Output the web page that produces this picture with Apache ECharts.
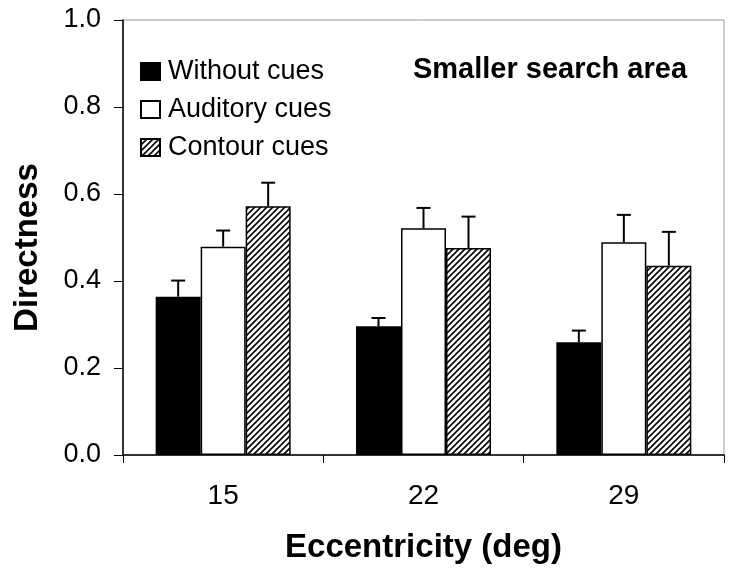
<!DOCTYPE html>
<html>
<head>
<meta charset="utf-8">
<script src="https://cdn.jsdelivr.net/npm/echarts@6/dist/echarts.min.js"></script>
<style>html,body{margin:0;padding:0;background:#fff;}#chart{width:740px;height:571px;}</style>
</head>
<body>
<div id="chart"></div>
<script>
// ---- data ----
const categories = ['15', '22', '29'];
const seriesNames = ['Without cues', 'Auditory cues', 'Contour cues'];
const withoutCues = [0.364, 0.296, 0.259];
const auditoryCues = [0.479, 0.521, 0.489];
const contourCues = [0.572, 0.476, 0.435];
const withoutErr = [0.037, 0.019, 0.027];
const auditoryErr = [0.037, 0.047, 0.063];
const contourErr = [0.054, 0.072, 0.078];
const panelTitle = 'Smaller search area';
const xTitle = 'Eccentricity (deg)';
const yTitle = 'Directness';

// ---- hatch pattern ----
function makeHatch() {
  const s = 6;
  const c = document.createElement('canvas');
  c.width = s; c.height = s;
  const ctx = c.getContext('2d');
  ctx.fillStyle = '#fff';
  ctx.fillRect(0, 0, s, s);
  ctx.strokeStyle = '#000';
  ctx.lineWidth = 1.6;
  ctx.beginPath();
  ctx.moveTo(-1, s + 1); ctx.lineTo(s + 1, -1);
  ctx.moveTo(-1, 1); ctx.lineTo(1, -1);
  ctx.moveTo(s - 1, s + 1); ctx.lineTo(s + 1, s - 1);
  ctx.stroke();
  return c;
}
const hatch = { image: makeHatch(), repeat: 'repeat' };

const values = [withoutCues, auditoryCues, contourCues];
const errors = [withoutErr, auditoryErr, contourErr];
const fills = ['#000', '#fff', hatch];
const BAR_W = 45;

const barSeries = seriesNames.map((name, i) => ({
  name: name,
  type: 'bar',
  data: values[i],
  barWidth: BAR_W,
  barGap: '0%',
  itemStyle: { color: fills[i], borderColor: '#000', borderWidth: 1.5 },
  emphasis: { disabled: true },
  z: 2
}));

const errSeries = seriesNames.map((name, i) => ({
  type: 'custom',
  name: name + ' error',
  data: categories.map((c, j) => [j, values[i][j], values[i][j] + errors[i][j]]),
  encode: { x: 0, y: [1, 2] },
  z: 5,
  silent: true,
  renderItem: function (params, api) {
    const base = api.coord([api.value(0), api.value(1)]);
    const top = api.coord([api.value(0), api.value(2)]);
    const x = base[0] + (i - 1) * BAR_W;
    const cap = 7;
    const st = { stroke: '#000', lineWidth: 2 };
    return {
      type: 'group',
      children: [
        { type: 'line', shape: { x1: x, y1: base[1], x2: x, y2: top[1] }, style: st },
        { type: 'line', shape: { x1: x - cap, y1: top[1], x2: x + cap, y2: top[1] }, style: st }
      ]
    };
  }
}));

const font = 'Liberation Sans, Arial, sans-serif';
const chart = echarts.init(document.getElementById('chart'), null, { renderer: 'canvas' });
chart.setOption({
  backgroundColor: '#fff',
  animation: false,
  title: {
    text: panelTitle,
    left: 550,
    textAlign: 'center',
    top: 55,
    padding: 0,
    textStyle: { fontFamily: font, fontWeight: 'bold', fontSize: 29, color: '#000' }
  },
  legend: {
    data: seriesNames,
    orient: 'vertical',
    left: 140,
    top: 58,
    padding: 0,
    itemWidth: 19,
    itemHeight: 17,
    itemGap: 11,
    icon: 'rect',
    selectedMode: false,
    textStyle: { fontFamily: font, fontSize: 27, color: '#000', lineHeight: 25, padding: [0, 0, 0, 3] }
  },
  grid: {
    left: 123, right: 16, top: 20, bottom: 116,
    show: true, borderColor: '#999', borderWidth: 1, backgroundColor: 'transparent'
  },
  xAxis: {
    type: 'category',
    data: categories,
    name: xTitle,
    nameLocation: 'middle',
    nameGap: 76,
    nameTextStyle: { fontFamily: font, fontWeight: 'bold', fontSize: 33, color: '#000' },
    axisLine: { lineStyle: { color: '#000', width: 1.5 } },
    axisTick: { show: true, length: 8, lineStyle: { color: '#000', width: 1 } },
    axisLabel: { fontFamily: font, fontSize: 28, color: '#000', margin: 27 },
    splitLine: { show: false }
  },
  yAxis: {
    type: 'value',
    min: 0, max: 1, interval: 0.2,
    name: yTitle,
    nameLocation: 'middle',
    nameRotate: 90,
    nameGap: 79,
    nameTextStyle: { fontFamily: font, fontWeight: 'bold', fontSize: 33, color: '#000', padding: [0, 20, 0, 0] },
    axisLine: { show: true, lineStyle: { color: '#000', width: 1.5 } },
    axisTick: { show: true, length: 9, lineStyle: { color: '#000', width: 1 } },
    axisLabel: { fontFamily: font, fontSize: 27, color: '#000', margin: 22, formatter: v => v.toFixed(1) },
    splitLine: { show: false }
  },
  series: barSeries.concat(errSeries)
});
</script>
</body>
</html>
